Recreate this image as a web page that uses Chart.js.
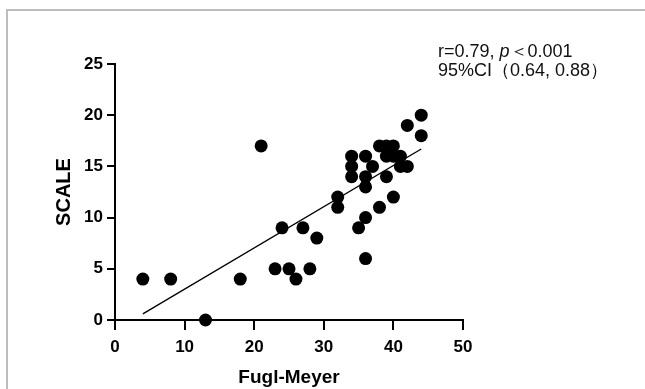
<!DOCTYPE html>
<html>
<head>
<meta charset="utf-8">
<script src="https://cdn.jsdelivr.net/npm/chart.js@4/dist/chart.umd.min.js"></script>
<style>
  html, body { margin: 0; padding: 0; background: #fff; }
  #wrap { position: relative; width: 645px; height: 389px; overflow: hidden; }
  #frame {
    position: absolute; left: 6px; top: 9px; width: 700px; height: 420px;
    border-top: 2px solid #bdbdbd; border-left: 2px solid #bdbdbd;
    box-sizing: border-box;
  }
  #stats {
    position: absolute; left: 438px; top: 42px;
    font-family: 'Liberation Sans', Arial, sans-serif; font-size: 18px;
    line-height: 19px; color: #111; white-space: nowrap;
  }
  canvas { position: absolute; left: 0; top: 0; }
</style>
</head>
<body>
<div id="wrap">
  <div id="frame"></div>
  <canvas id="chart" width="645" height="389"></canvas>
  <div id="stats">r=0.79, <i>p</i>＜0.001<br>95%CI（0.64, 0.88）</div>
</div>
<script>
// Fugl-Meyer (x) vs SCALE (y), one entry per subject
const fuglMeyer = [4, 8, 13, 18, 21, 23, 24, 25, 26, 27, 28, 29, 32, 32, 34, 34, 34, 35, 36,
    36, 36, 36, 36, 37, 38, 38, 39, 39, 39, 40, 40, 40, 41, 41, 42, 42, 44, 44];
const scale = [4, 4, 0, 4, 17, 5, 9, 5, 4, 9, 5, 8, 12, 11, 16, 15, 14, 9, 16,
    14, 13, 10, 6, 15, 17, 11, 17, 16, 14, 17, 16, 12, 16, 15, 19, 15, 20, 18];

// fitted line end points
const fitX = [4, 44];
const fitY = [0.6, 16.7];

const xTicks = { min: 0, max: 50, step: 10 };
const yTicks = { min: 0, max: 25, step: 5 };

const tickFont = { family: "'Liberation Sans', Arial, sans-serif", size: 17, weight: 'bold' };
const yTitleFont = { family: "'Liberation Sans', Arial, sans-serif", size: 20, weight: 'bold' };
const xTitleFont = { family: "'Liberation Sans', Arial, sans-serif", size: 19, weight: 'bold' };

new Chart(document.getElementById('chart'), {
    type: 'scatter',
    data: {
        datasets: [
            {
                data: fuglMeyer.map((x, i) => ({ x, y: scale[i] })),
                backgroundColor: '#000',
                borderWidth: 0,
                pointRadius: 6.5,
                clip: false,
            },
            {
                type: 'line',
                data: fitX.map((x, i) => ({ x, y: fitY[i] })),
                borderColor: '#000',
                borderWidth: 1.4,
                pointRadius: 0,
                fill: false,
                clip: false,
            },
        ],
    },
    options: {
        responsive: false,
        animation: false,
        events: [],
        layout: { padding: { left: 52, right: 182, top: 64, bottom: 0 } },
        plugins: { legend: { display: false }, tooltip: { enabled: false } },
        scales: {
            x: {
                type: 'linear',
                min: xTicks.min, max: xTicks.max,
                ticks: { stepSize: xTicks.step, color: '#000', font: tickFont, padding: 7, maxRotation: 0 },
                grid: { drawOnChartArea: false, drawTicks: true, tickLength: 10, lineWidth: 2, color: '#000' },
                border: { display: true, width: 2, color: '#000' },
                title: { display: true, text: 'Fugl-Meyer', color: '#000', font: xTitleFont, padding: { top: 0, bottom: 0 } },
                afterFit(s) { s.height = 69; },
            },
            y: {
                type: 'linear',
                min: yTicks.min, max: yTicks.max,
                ticks: { stepSize: yTicks.step, color: '#000', font: tickFont, padding: 4 },
                grid: { drawOnChartArea: false, drawTicks: true, tickLength: 8, lineWidth: 2, color: '#000' },
                border: { display: true, width: 2, color: '#000' },
                title: { display: true, text: 'SCALE', color: '#000', font: yTitleFont, padding: 0 },
                afterFit(s) { s.width = 63; },
            },
        },
    },
});
</script>
</body>
</html>
